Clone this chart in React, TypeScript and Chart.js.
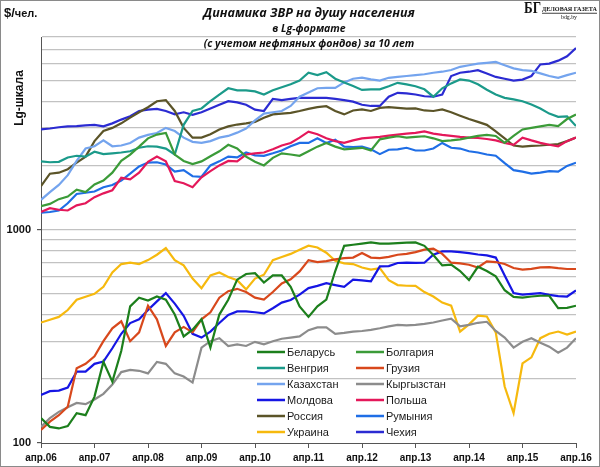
import React, { useEffect, useRef } from "react";
import { Chart, registerables } from "chart.js";

Chart.register(...registerables);

// months since April 2006, sampled every 2 months (0..120)
const monthStep = 2;
const xTickLabels = ["апр.06", "апр.07", "апр.08", "апр.09", "апр.10", "апр.11", "апр.12", "апр.13", "апр.14", "апр.15", "апр.16"];
const yTickValues = [100, 200, 300, 400, 500, 600, 700, 800, 900, 1000, 2000, 3000, 4000, 5000, 6000, 7000, 8000];
const yLabelled = [100, 1000];

const seriesNames = ["Беларусь", "Болгария", "Венгрия", "Грузия", "Казахстан", "Кыргызстан", "Молдова", "Польша", "Россия", "Румыния", "Украина", "Чехия"];
const seriesColors = ["#1c7f1c", "#3b9b38", "#1b9a8a", "#d8481c", "#74a4ee", "#8c8c8c", "#1616e4", "#e4185a", "#5b5428", "#1f6ee6", "#f6b90e", "#2b2bd2"];

const belarus = [131, 119, 117, 120, 138, 135, 165, 240, 194, 270, 437,
  480, 465, 486, 470, 400, 316, 340, 380, 280, 400,
  469, 583, 620, 625, 565, 610, 610, 540, 437, 390,
  437, 470, 640, 840, 850, 860, 872, 860, 860, 865,
  870, 872, 840, 760, 680, 685, 640, 580, 670, 640,
  604, 520, 484, 480, 486, 490, 490, 429, 430, 440];
const bulgaria = [1290, 1320, 1390, 1430, 1540, 1500, 1630, 1700, 1850, 2100, 2250,
  2450, 2680, 2790, 2840, 2250, 2100, 2030, 2090, 2210, 2330,
  2500, 2400, 2200, 2080, 2000, 2170, 2280, 2250, 2220, 2330,
  2450, 2550, 2450, 2380, 2400, 2420, 2350, 2650, 2700, 2740,
  2700, 2720, 2740, 2680, 2600, 2620, 2650, 2700, 2750, 2780,
  2750, 2550, 2750, 2950, 3000, 3050, 3100, 3060, 3300, 3470];
const hungary = [2090, 2070, 2080, 2180, 2220, 2200, 2320, 2260, 2280, 2300, 2330,
  2420, 2460, 2450, 2400, 2250, 3100, 3600, 3700, 4000, 4300,
  4600, 4500, 4500, 4450, 4300, 4500, 4650, 4800, 5000, 5440,
  5300, 5470, 5100, 4900, 4710, 4520, 4550, 4550, 4700, 4880,
  4800, 4700, 4550, 4200, 4600, 4850, 5060, 5000, 4800, 4530,
  4300, 4150, 4080, 4000, 3860, 3700, 3500, 3380, 3400, 3060];
const georgia = [115, 126, 135, 148, 224, 235, 255, 300, 345, 372, 300,
  330, 440, 380, 285, 330, 350, 330, 380, 410, 480,
  515, 528, 510, 480, 470, 510, 560, 585, 637, 720,
  705, 712, 725, 736, 740, 777, 740, 735, 745, 763,
  770, 785, 806, 815, 770, 700, 695, 685, 665, 710,
  705, 690, 661, 650, 655, 665, 668, 660, 654, 654];
const kazakhstan = [1380, 1500, 1620, 1800, 2100, 2400, 2460, 2620, 2460, 2480, 2550,
  2700, 2780, 2840, 3000, 2900, 2700, 2580, 2550, 2600, 2700,
  2750, 2850, 2980, 3250, 3500, 3550, 3600, 3800, 4200, 4400,
  4600, 4620, 4620, 4900, 5100, 5160, 5060, 5000, 5150, 5200,
  5250, 5300, 5350, 5440, 5500, 5600, 5800, 5900, 6000, 6050,
  6110, 5900, 5700, 5600, 5550, 5400, 5250, 5150, 5300, 5440];
const kyrgyzstan = [119, 131, 140, 147, 154, 152, 160, 170, 188, 215, 220,
  218, 212, 240, 235, 212, 205, 192, 280, 300, 310,
  285, 290, 285, 298, 290, 300, 308, 312, 316, 338,
  348, 348, 325, 328, 333, 335, 339, 345, 352, 358,
  356, 358, 362, 367, 375, 383, 352, 358, 366, 370,
  335, 312, 280, 298, 310, 295, 283, 265, 280, 310];
const moldova = [168, 175, 176, 182, 216, 216, 235, 241, 278, 325, 365,
  380, 420, 461, 504, 450, 395, 325, 312, 333, 365,
  398, 414, 414, 410, 405, 428, 455, 468, 496, 532,
  545, 561, 550, 540, 583, 578, 572, 673, 675, 698,
  700, 698, 700, 763, 791, 791, 785, 777, 765, 758,
  740, 610, 505, 496, 500, 504, 495, 488, 486, 519];
const poland = [1210, 1260, 1240, 1230, 1300, 1330, 1420, 1480, 1530, 1750, 1720,
  1850, 2080, 2200, 2090, 1690, 1650, 1580, 1760, 1880, 2000,
  2100, 2090, 2250, 2280, 2300, 2380, 2480, 2550, 2700, 2880,
  2800, 2680, 2600, 2550, 2620, 2680, 2700, 2720, 2760, 2790,
  2820, 2840, 2890, 2820, 2780, 2750, 2720, 2700, 2690, 2660,
  2620, 2550, 2500, 2700, 2620, 2550, 2500, 2460, 2600, 2700];
const russia = [1600, 1830, 1850, 1920, 2060, 2200, 2600, 2900, 3000, 3150, 3350,
  3550, 3750, 4000, 4050, 3600, 3000, 2700, 2700, 2800, 2950,
  3050, 3110, 3150, 3200, 3350, 3470, 3500, 3530, 3600, 3680,
  3750, 3790, 3600, 3470, 3620, 3660, 3600, 3720, 3750, 3720,
  3690, 3700, 3620, 3600, 3660, 3550, 3420, 3300, 3200, 3100,
  2890, 2680, 2480, 2450, 2470, 2480, 2500, 2520, 2600, 2700];
const romania = [1200, 1210, 1230, 1330, 1470, 1490, 1510, 1580, 1620, 1700, 1830,
  1980, 2060, 2070, 2020, 1870, 1900, 1780, 1770, 2000, 2090,
  2200, 2180, 2300, 2230, 2220, 2280, 2350, 2460, 2550, 2550,
  2680, 2550, 2640, 2450, 2440, 2450, 2380, 2260, 2370, 2380,
  2420, 2350, 2350, 2400, 2550, 2420, 2400, 2330, 2300, 2250,
  2220, 2050, 1900, 1870, 1830, 1850, 1880, 1870, 1990, 2060];
const ukraine = [367, 378, 390, 420, 469, 485, 500, 540, 630, 690, 700,
  690, 720, 763, 820, 720, 680, 590, 532, 610, 630,
  600, 580, 525, 590, 615, 720, 745, 770, 806, 841,
  825, 780, 715, 695, 690, 665, 650, 660, 580, 550,
  546, 545, 510, 486, 455, 440, 333, 360, 395, 392,
  330, 184, 138, 236, 252, 310, 325, 333, 322, 333];
const czechia = [2950, 2980, 3020, 3050, 3060, 3080, 3100, 3050, 3150, 3280, 3400,
  3600, 3650, 3680, 3600, 3470, 3550, 3450, 3550, 3700, 3850,
  4000, 3950, 3850, 3650, 3600, 4100, 4050, 4100, 4150, 4150,
  4150, 4150, 4100, 4050, 3980, 3850, 3800, 3800, 4200, 4380,
  4350, 4300, 4220, 4200, 4300, 5250, 5440, 5500, 5590, 5400,
  5200, 5100, 5000, 5050, 5250, 5950, 6000, 6200, 6500, 7100];

const seriesValues = [belarus, bulgaria, hungary, georgia, kazakhstan, kyrgyzstan, moldova, poland, russia, romania, ukraine, czechia];

const FONT = '"Liberation Sans", Arial, sans-serif';
const TFONT = '"Open Sans", "Noto Sans", sans-serif';
const SERIF = '"Liberation Serif", "DejaVu Serif", serif';

function fitText(ctx: CanvasRenderingContext2D, text: string, x: number, y: number, width: number) {
  const w = ctx.measureText(text).width;
  ctx.save();
  ctx.translate(x, y);
  ctx.scale(width / w, 1);
  ctx.fillText(text, 0, 0);
  ctx.restore();
}

const overlayPlugin = {
  id: "overlay",
  afterDraw(chart: any) {
    const ctx = chart.ctx as CanvasRenderingContext2D;
    const W = chart.width, H = chart.height;
    ctx.save();
    // outer frame
    ctx.strokeStyle = "#8a8a8a";
    ctx.lineWidth = 1;
    ctx.strokeRect(0.5, 0.5, W - 1, H - 1);

    // titles
    ctx.fillStyle = "#111";
    ctx.textAlign = "center";
    ctx.textBaseline = "middle";
    ctx.font = `italic bold 12.5px ${TFONT}`;
    ctx.fillText("Динамика ЗВР на душу населения", 309, 13);
    ctx.font = `italic bold 10.5px ${TFONT}`;
    ctx.fillText("в Lg-формате", 309, 29);
    ctx.fillText("(с учетом нефтяных фондов) за 10 лет", 309, 44);

    // unit label
    ctx.textAlign = "left";
    ctx.font = `bold 13px ${FONT}`;
    ctx.fillText("$/", 4, 13);
    const w1 = ctx.measureText("$/").width;
    ctx.font = `bold 11px ${FONT}`;
    ctx.fillText("чел.", 4 + w1, 14);

    // rotated axis title
    ctx.save();
    ctx.translate(20, 98);
    ctx.rotate(-Math.PI / 2);
    ctx.textAlign = "center";
    ctx.font = `bold 12px ${FONT}`;
    ctx.fillText("Lg-шкала", 0, 0);
    ctx.restore();

    // logo
    ctx.textAlign = "left";
    ctx.fillStyle = "#111";
    ctx.font = `bold 17px ${SERIF}`;
    fitText(ctx, "БГ", 524, 9, 17);
    ctx.font = `bold 7px ${SERIF}`;
    fitText(ctx, "ДЕЛОВАЯ ГАЗЕТА", 542, 9.5, 55);
    ctx.fillRect(542, 12.8, 55, 0.8);
    ctx.font = `5.5px ${SERIF}`;
    fitText(ctx, "bdg.by", 561, 18, 16);

    // legend (2 columns)
    const ds = chart.data.datasets;
    ctx.font = `11px ${FONT}`;
    ctx.textBaseline = "middle";
    for (let i = 0; i < ds.length; i++) {
      const col = i % 2;
      const row = Math.floor(i / 2);
      const x0 = col === 0 ? 257 : 356;
      const y = 352 + row * 16;
      ctx.strokeStyle = ds[i].borderColor;
      ctx.lineWidth = 2.5;
      ctx.beginPath();
      ctx.moveTo(x0, y);
      ctx.lineTo(x0 + 28, y);
      ctx.stroke();
      ctx.fillStyle = "#1a1a1a";
      ctx.fillText(ds[i].label, x0 + 30, y + 0.5);
    }
    ctx.restore();
  },
};

export default function App() {
  const ref = useRef<HTMLCanvasElement>(null);
  useEffect(() => {
    const datasets = seriesNames.map((name, i) => ({
      label: name,
      data: seriesValues[i].map((v, k) => ({ x: k * monthStep, y: v })),
      borderColor: seriesColors[i],
      backgroundColor: seriesColors[i],
      borderWidth: 2.2,
      pointRadius: 0,
      fill: false,
      tension: 0,
    }));
    const chart = new Chart(ref.current as HTMLCanvasElement, {
      type: "line",
      data: { datasets },
      options: {
        animation: false,
        responsive: true,
        maintainAspectRatio: false,
        layout: { padding: { top: 37, right: 24, left: 0, bottom: 0 } },
        plugins: { legend: { display: false }, tooltip: { enabled: false }, title: { display: false } },
        scales: {
          x: {
            type: "linear",
            min: 0,
            max: 120,
            afterFit: (s: any) => { s.height = 24; },
            ticks: {
              stepSize: 12,
              autoSkip: false,
              maxRotation: 0,
              padding: 4,
              color: "#111",
              font: { family: FONT, size: 10, weight: "bold" },
              callback: (v: any) => xTickLabels[Math.round(Number(v) / 12)] ?? "",
            },
            grid: { drawOnChartArea: false, drawTicks: true, tickLength: 5, tickColor: "#555" },
            border: { color: "#555", width: 1 },
          },
          y: {
            type: "logarithmic",
            min: 100,
            max: 8000,
            afterFit: (s: any) => { s.width = 41; },
            afterBuildTicks: (s: any) => { s.ticks = yTickValues.map((v) => ({ value: v })); },
            ticks: {
              autoSkip: false,
              padding: 6,
              color: "#111",
              font: { family: FONT, size: 11, weight: "bold" },
              callback: (v: any) => (yLabelled.includes(Number(v)) ? String(v) : ""),
            },
            grid: {
              color: (c: any) => (c.tick && c.tick.value === 100 ? "rgba(0,0,0,0)" : "#c2c2c2"),
              lineWidth: 1.2,
              drawTicks: true,
              tickLength: 4,
              tickColor: (c: any) => (c.tick && yLabelled.includes(c.tick.value) ? "#555" : "rgba(0,0,0,0)"),
            },
            border: { color: "#555", width: 1 },
          },
        },
      },
      plugins: [overlayPlugin],
    });
    return () => chart.destroy();
  }, []);
  return (
    <div style={{ position: "absolute", left: 0, top: 0, width: 600, height: 467, background: "#fff" }}>
      <canvas ref={ref} />
    </div>
  );
}
